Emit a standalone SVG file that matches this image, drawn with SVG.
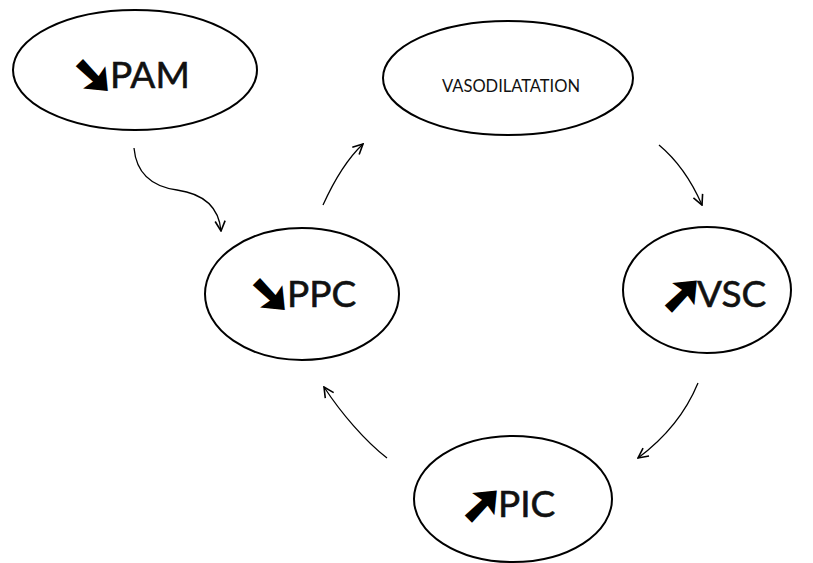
<svg xmlns="http://www.w3.org/2000/svg" width="813" height="563" viewBox="0 0 813 563">
<style>
.node{fill:#fff;stroke:#000;stroke-width:2}
.lbl{font-family:Lato,"Open Sans","Liberation Sans",sans-serif;fill:#111}
.big{font-size:37px;stroke:#111;stroke-width:0.6}
.arr{font-family:"DejaVu Sans",sans-serif;font-size:47px;fill:#000;stroke:#000;stroke-width:4.5;stroke-linejoin:miter;text-anchor:middle}
.small{font-size:16.5px;text-anchor:middle}
.conn{fill:none;stroke:#000;stroke-width:1.3;marker-end:url(#ah)}
</style>
<defs>
<marker id="ah" viewBox="0 0 12 12" refX="11" refY="6" markerWidth="12" markerHeight="12" markerUnits="userSpaceOnUse" orient="auto">
<polyline points="1,1 11,6 1,11" fill="none" stroke="#000" stroke-width="1.6"/>
</marker>
</defs>
<rect width="813" height="563" fill="#fff"/>
<g id="connectors">
<path class="conn" d="M134,148 C136,170 148,186 177,190 C205,194 219,208 221,231"/>
<path class="conn" d="M323,205 C333,183 346,160 363,144"/>
<path class="conn" d="M659,145 C677,160 692,182 702,205"/>
<path class="conn" d="M698,383 C686,412 665,438 638,458"/>
<path class="conn" d="M387,458 C365,441 341,413 324,387"/>
</g>
<g id="pam">
<ellipse class="node" cx="135" cy="70" rx="122" ry="60"/>
<text class="arr" x="93" y="91">➘</text>
<text class="lbl big" x="110" y="88">PAM</text>
</g>
<g id="vasodilatation">
<ellipse class="node" cx="508" cy="78" rx="125" ry="57"/>
<text class="lbl small" x="511" y="92">VASODILATATION</text>
</g>
<g id="ppc">
<ellipse class="node" cx="302" cy="294" rx="97" ry="66"/>
<text class="arr" x="270" y="310">➘</text>
<text class="lbl big" x="287" y="307">PPC</text>
</g>
<g id="vsc">
<ellipse class="node" cx="707" cy="290" rx="84" ry="63"/>
<text class="arr" x="682" y="310">➚</text>
<text class="lbl big" x="697" y="307">VSC</text>
</g>
<g id="pic">
<ellipse class="node" cx="513" cy="499" rx="99" ry="63"/>
<text class="arr" x="482" y="520">➚</text>
<text class="lbl big" x="498" y="517">PIC</text>
</g>
</svg>
